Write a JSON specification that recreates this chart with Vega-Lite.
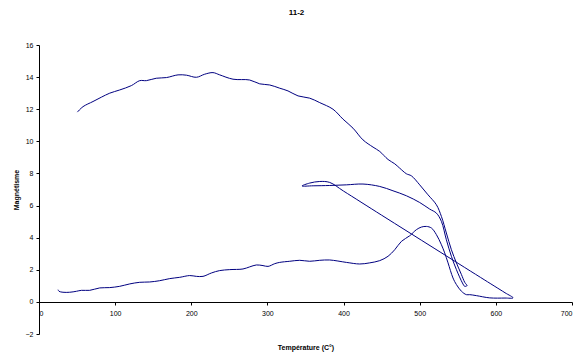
{
  "$schema": "https://vega.github.io/schema/vega-lite/v6.json",
  "width": 533,
  "height": 289,
  "autosize": "none",
  "padding": {"left": 39, "top": 45, "right": 13, "bottom": 22},
  "background": "white",
  "title": {"text": "11-2", "font": "Liberation Sans", "fontSize": 8, "fontWeight": "bold", "color": "black", "anchor": "middle", "baseline": "top", "offset": 24, "dx": -9},
  "config": {"view": {"stroke": null}, "font": "Liberation Sans"},
  "data": {"values": [
    {"o":1,"t":50.4,"m":11.82},{"o":2,"t":57.8,"m":12.16},{"o":3,"t":70.9,"m":12.48},{"o":4,"t":81.9,"m":12.75},
    {"o":5,"t":92.9,"m":13.0},{"o":6,"t":106,"m":13.2},{"o":7,"t":121.3,"m":13.47},{"o":8,"t":132.3,"m":13.78},
    {"o":9,"t":141,"m":13.78},{"o":10,"t":154,"m":13.93},{"o":11,"t":167.3,"m":13.97},{"o":12,"t":182.6,"m":14.14},
    {"o":13,"t":193.6,"m":14.12},{"o":14,"t":206.7,"m":13.99},{"o":15,"t":217.6,"m":14.18},{"o":16,"t":228.5,"m":14.28},
    {"o":17,"t":237.3,"m":14.14},{"o":18,"t":254.8,"m":13.87},{"o":19,"t":276.7,"m":13.82},{"o":20,"t":289.9,"m":13.58},
    {"o":21,"t":303,"m":13.51},{"o":22,"t":316.1,"m":13.31},{"o":23,"t":327,"m":13.14},{"o":24,"t":340.2,"m":12.83},
    {"o":25,"t":355.5,"m":12.69},{"o":26,"t":368.7,"m":12.41},{"o":27,"t":386.1,"m":12.0},{"o":28,"t":399.3,"m":11.38},
    {"o":29,"t":412.4,"m":10.82},{"o":30,"t":425.5,"m":10.09},{"o":31,"t":438.7,"m":9.64},{"o":32,"t":447.5,"m":9.37},
    {"o":33,"t":458.4,"m":8.87},{"o":34,"t":467.2,"m":8.6},{"o":35,"t":473.7,"m":8.33},{"o":36,"t":482.5,"m":7.98},
    {"o":37,"t":489.1,"m":7.85},{"o":38,"t":500,"m":7.29},{"o":39,"t":510.9,"m":6.67},{"o":40,"t":521.9,"m":6.05},
    {"o":41,"t":528.5,"m":5.32},{"o":42,"t":535,"m":4.29},{"o":43,"t":541.6,"m":3.25},{"o":44,"t":548.2,"m":2.43},
    {"o":45,"t":554.8,"m":1.70},{"o":46,"t":559.1,"m":1.22},{"o":47,"t":562.1,"m":1.01},{"o":48,"t":559.1,"m":0.97},
    {"o":49,"t":556.1,"m":1.18},{"o":50,"t":548.2,"m":2.01},{"o":51,"t":541.6,"m":2.84},{"o":52,"t":535,"m":3.87},
    {"o":53,"t":528.5,"m":5.01},{"o":54,"t":521.9,"m":5.53},{"o":55,"t":513.1,"m":5.78},{"o":56,"t":500,"m":6.19},
    {"o":57,"t":482.5,"m":6.61},{"o":58,"t":464.9,"m":6.92},{"o":59,"t":447.5,"m":7.19},{"o":60,"t":425.5,"m":7.34},
    {"o":61,"t":403.7,"m":7.29},{"o":62,"t":381.8,"m":7.25},{"o":63,"t":360,"m":7.23},{"o":64,"t":345.4,"m":7.22},
    {"o":65,"t":355.5,"m":7.4},{"o":66,"t":368.7,"m":7.5},{"o":67,"t":381.8,"m":7.44},{"o":68,"t":400,"m":6.9},
    {"o":69,"t":450,"m":5.40},{"o":70,"t":520,"m":3.31},{"o":71,"t":580,"m":1.52},{"o":72,"t":612,"m":0.57},
    {"o":73,"t":622.6,"m":0.25},{"o":74,"t":612,"m":0.24},{"o":75,"t":592,"m":0.25},
    {"o":76,"t":574.4,"m":0.39},{"o":77,"t":565.7,"m":0.45},{"o":78,"t":561.3,"m":0.45},{"o":79,"t":554.8,"m":0.66},
    {"o":80,"t":548.2,"m":1.08},{"o":81,"t":543.7,"m":1.49},{"o":82,"t":537.2,"m":2.43},{"o":83,"t":532.8,"m":3.05},
    {"o":84,"t":528.5,"m":3.56},{"o":85,"t":521.9,"m":4.19},{"o":86,"t":515.4,"m":4.6},{"o":87,"t":508.8,"m":4.7},
    {"o":88,"t":502.2,"m":4.66},{"o":89,"t":495.7,"m":4.5},{"o":90,"t":486.9,"m":4.12},{"o":91,"t":476,"m":3.77},
    {"o":92,"t":467.2,"m":3.25},{"o":93,"t":458.4,"m":2.84},{"o":94,"t":447.5,"m":2.57},{"o":95,"t":434.3,"m":2.43},
    {"o":96,"t":421.2,"m":2.36},{"o":97,"t":403.7,"m":2.46},{"o":98,"t":381.8,"m":2.61},{"o":99,"t":368.7,"m":2.59},
    {"o":100,"t":355.5,"m":2.53},{"o":101,"t":342.4,"m":2.59},{"o":102,"t":329.3,"m":2.53},{"o":103,"t":316.1,"m":2.46},
    {"o":104,"t":309.6,"m":2.38},{"o":105,"t":300.8,"m":2.21},{"o":106,"t":294.2,"m":2.26},{"o":107,"t":285.5,"m":2.30},
    {"o":108,"t":276.7,"m":2.18},{"o":109,"t":267.9,"m":2.05},{"o":110,"t":250.5,"m":2.01},{"o":111,"t":237.3,"m":1.95},
    {"o":112,"t":226.4,"m":1.80},{"o":113,"t":215.4,"m":1.59},{"o":114,"t":206.7,"m":1.59},{"o":115,"t":197.9,"m":1.64},
    {"o":116,"t":184.8,"m":1.53},{"o":117,"t":171.7,"m":1.45},{"o":118,"t":158.5,"m":1.32},{"o":119,"t":145.4,"m":1.24},
    {"o":120,"t":132.3,"m":1.22},{"o":121,"t":119.2,"m":1.12},{"o":122,"t":106,"m":0.97},{"o":123,"t":92.9,"m":0.89},
    {"o":124,"t":79.8,"m":0.87},{"o":125,"t":66.6,"m":0.72},{"o":126,"t":55.7,"m":0.72},{"o":127,"t":49.1,"m":0.66},
    {"o":128,"t":40.3,"m":0.60},{"o":129,"t":31.5,"m":0.60},{"o":130,"t":26.3,"m":0.66},{"o":131,"t":25,"m":0.76}
  ]},
  "mark": {"type": "line", "color": "#000080", "strokeWidth": 1, "interpolate": "catmull-rom"},
  "encoding": {
    "order": {"field": "o", "type": "quantitative"},
    "x": {
      "field": "t", "type": "quantitative",
      "scale": {"domain": [0, 700], "nice": false, "zero": false},
      "axis": {
        "title": "Température (C°)", "values": [0,100,200,300,400,500,600,700],
        "offset": -32, "grid": false, "domainColor": "black", "tickColor": "black", "tickSize": 3,
        "labelFontSize": 7, "labelColor": "black", "labelPadding": 4, "labelFont": "Liberation Sans",
        "titleFontSize": 7, "titleFontWeight": "bold", "titleColor": "black", "titlePadding": 27, "titleFont": "Liberation Sans"
      }
    },
    "y": {
      "field": "m", "type": "quantitative",
      "scale": {"domain": [-2, 16], "nice": false, "zero": false},
      "axis": {
        "title": "Magnétisme", "values": [-2,0,2,4,6,8,10,12,14,16],
        "grid": false, "domainColor": "black", "tickColor": "black", "tickSize": 3,
        "labelFontSize": 7, "labelColor": "black", "labelPadding": 3, "labelFont": "Liberation Sans",
        "titleFontSize": 7, "titleFontWeight": "bold", "titleColor": "black", "titlePadding": 6, "titleFont": "Liberation Sans"
      }
    }
  }
}
